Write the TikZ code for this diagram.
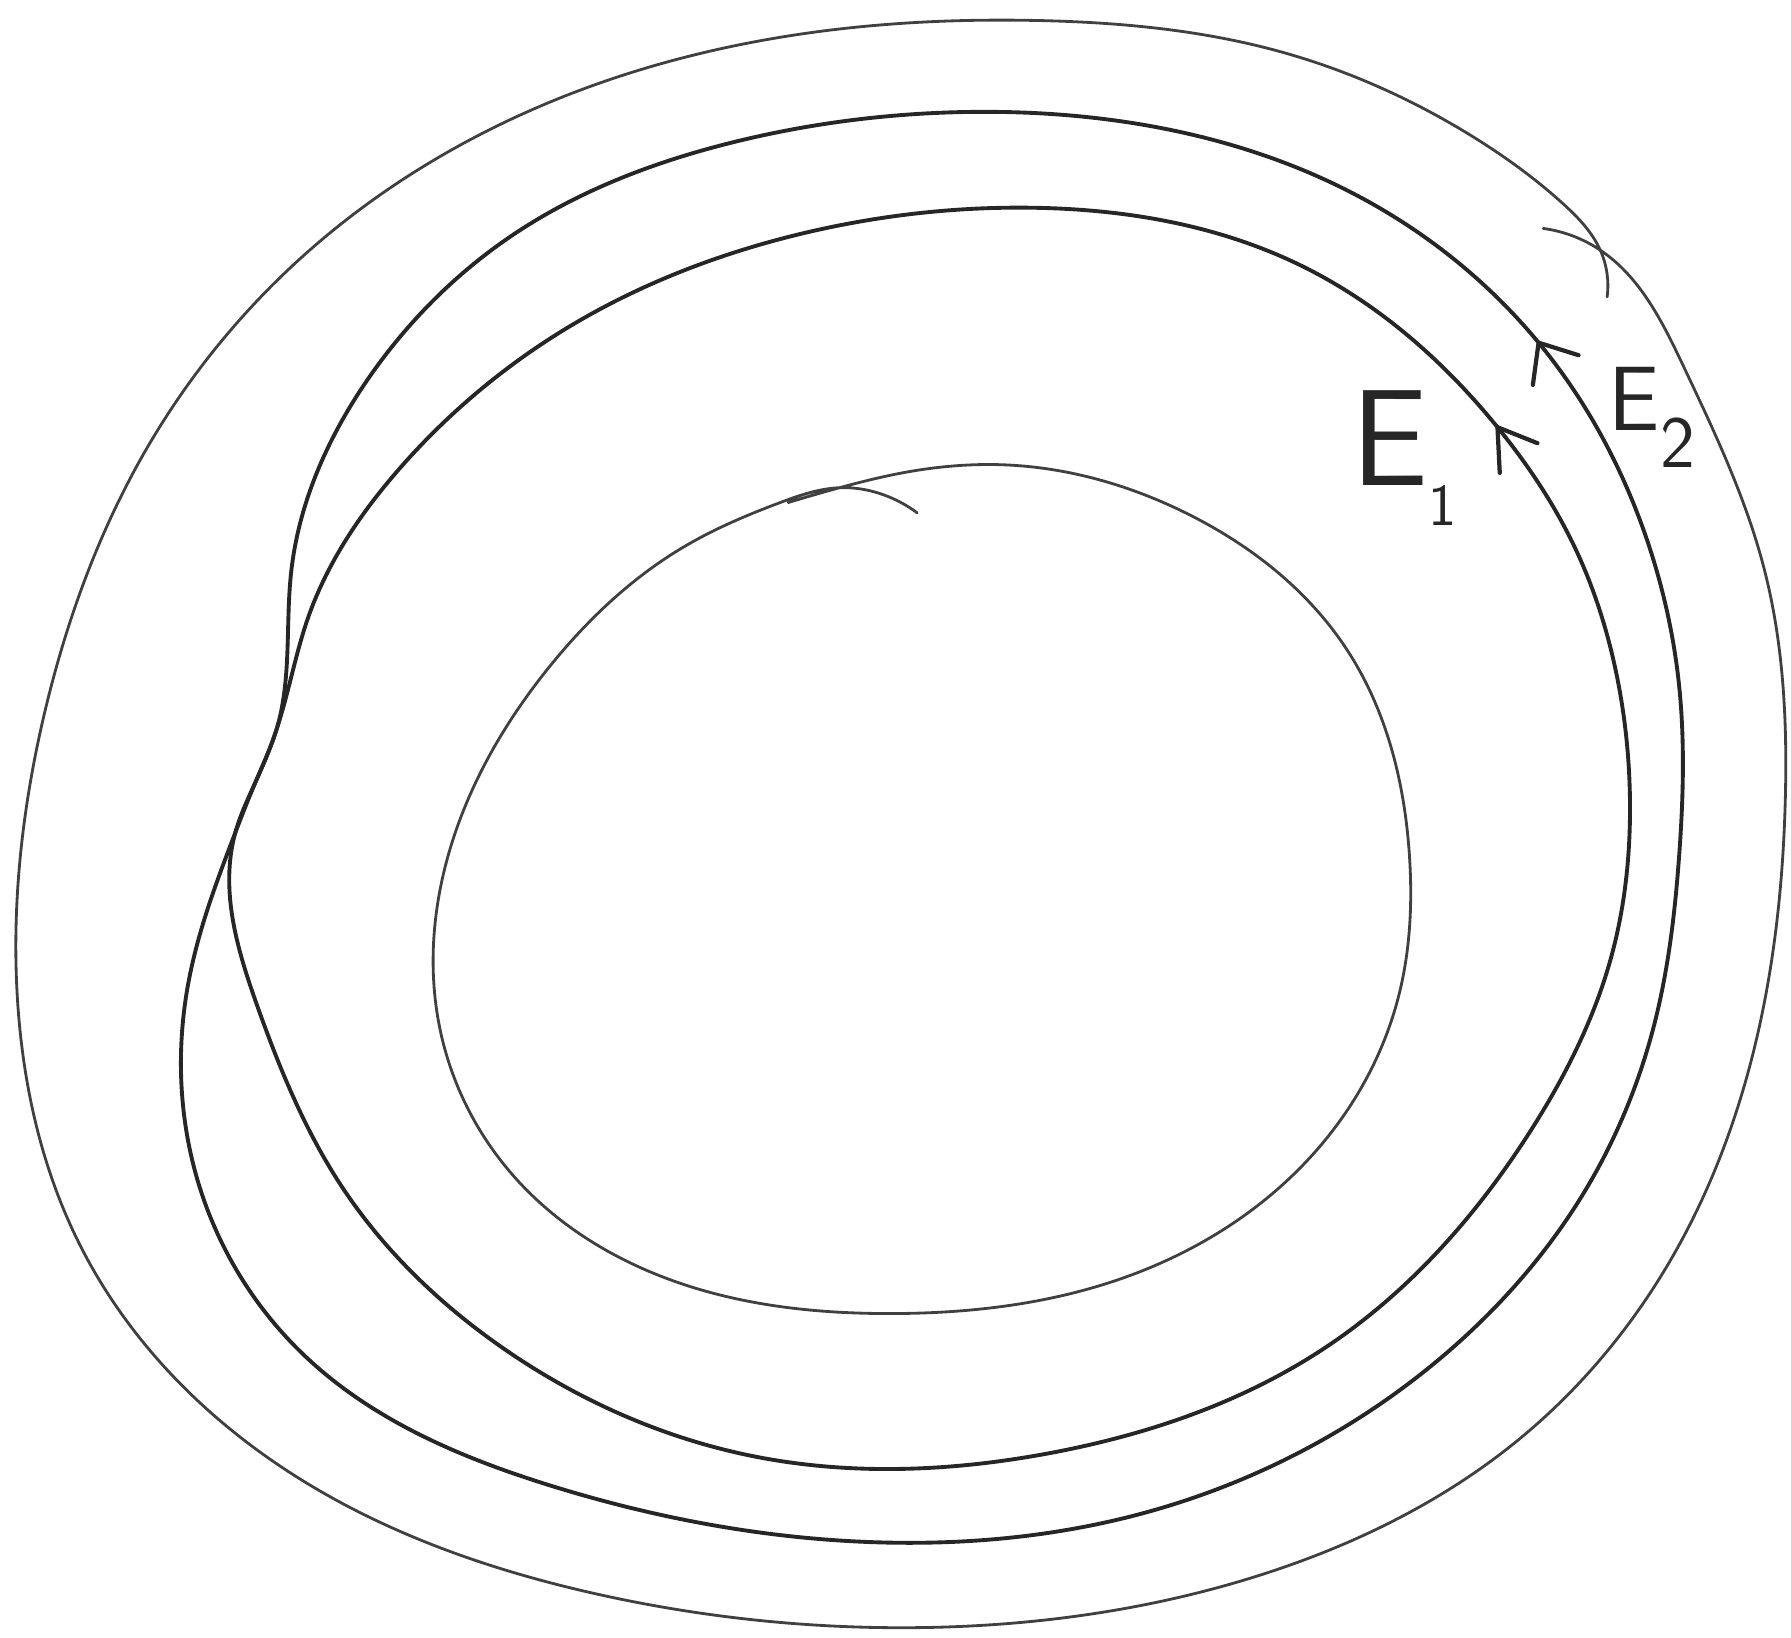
\documentclass[tikz,border=0pt]{standalone}
\usepackage{fontspec}
\usepackage{xcolor}
\usepackage{tikz}
\usetikzlibrary{positioning,hobby}

\begin{document}
\begin{tikzpicture}[
  x=0.11422mm, y=-0.11422mm,
  outline/.style={draw=black!75, line width=0.8pt, line cap=round, line join=round, use Hobby shortcut},
  level/.style={draw=black!85, line width=1.1pt, line cap=round, line join=round, use Hobby shortcut, closed=true},
  barb/.style={draw=black!85, line width=1.2pt, line cap=round},
  lbl/.style={inner sep=0pt, text=black!85, font=\sffamily, anchor=base west}
]
\useasboundingbox (0,0) rectangle (1568,1434);

% outer curve, the stroke overlaps at the top right
\draw[outline] (1351,200) .. (1401,219) .. (1474,321) .. (1545,500) .. (1563,700)
  .. (1540,900) .. (1470,1090) .. (1330,1260) .. (1100,1380) .. (800,1425)
  .. (520,1395) .. (240,1280) .. (70,1090) .. (15,870) .. (40,620) .. (130,390)
  .. (270,220) .. (480,90) .. (700,30) .. (910,18) .. (1120,45) .. (1290,120)
  .. (1368,178) .. (1401,219) .. (1407,260);

% level E_2
\draw[level] (850,98) .. (640,125) .. (450,205) .. (320,335) .. (255,500)
  .. (242,639) .. (224,684) .. (206,729) .. (165,860) .. (175,1040) .. (270,1190)
  .. (480,1300) .. (760,1350) .. (1000,1325) .. (1260,1190) .. (1395,1030)
  .. (1450,890) .. (1470,750) .. (1470,600) .. (1445,482) .. (1347,300)
  .. (1182,168) .. (980,106);

% level E_1
\draw[level] (910,182) .. (700,205) .. (500,285) .. (350,410) .. (270,540)
  .. (242,639) .. (224,684) .. (206,729) .. (225,880) .. (300,1040) .. (440,1180)
  .. (660,1275) .. (920,1272) .. (1160,1180) .. (1340,990) .. (1410,840)
  .. (1427,700) .. (1413,580) .. (1380,482) .. (1311,374) .. (1138,232);

% inner curve with its small hook at the top
\draw[outline] (803,449) .. (770,432) .. (735,427) .. (683,440) .. (600,478)
  .. (480,585) .. (395,740) .. (385,900) .. (450,1030) .. (600,1125) .. (780,1150)
  .. (980,1120) .. (1150,1010) .. (1225,870) .. (1234,750) .. (1180,570)
  .. (1040,450) .. (880,407) .. (790,414) .. (735,427) .. (690,440);

% arrow marks
\draw[barb] (1313,414) -- (1311,374) -- (1346,388);
\draw[barb] (1342,337) -- (1347,300) -- (1382,311);

% labels
\node[lbl] (lblEone) at (1183,425)
  {\fontsize{39}{39}\selectfont E\raisebox{-11.5pt}{\fontsize{17}{17}\selectfont 1}};
\node[lbl] (lblEtwo) at (1408,377)
  {\fontsize{26}{26}\selectfont E\raisebox{-10.4pt}{\fontsize{21}{21}\selectfont 2}};
\end{tikzpicture}
\end{document}
